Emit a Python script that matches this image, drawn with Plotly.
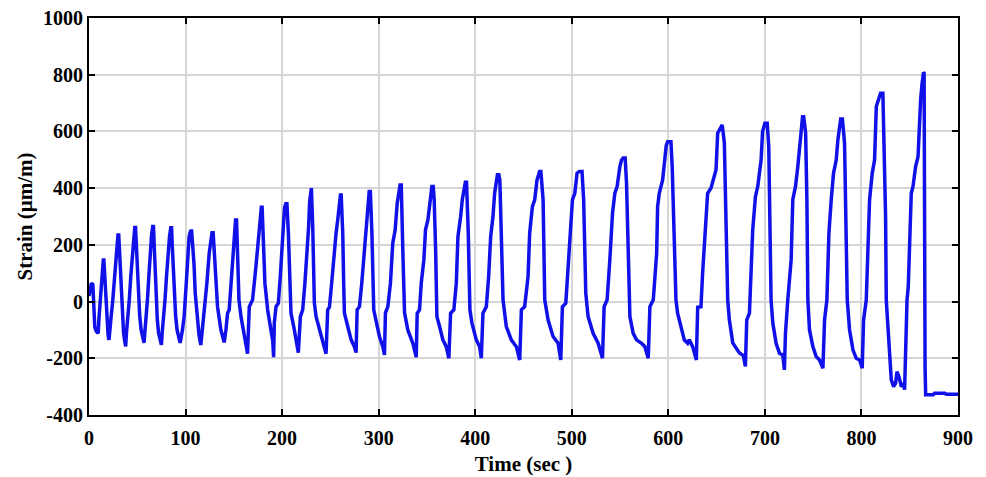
import plotly.graph_objects as go

# Values (time in s, strain in µm/m)
time_s = [
    0, 1, 2.5, 4, 5, 6, 7.5, 9.5,
    10.3, 11.3, 12.3, 13.3, 14.3, 14.8, 15.4, 16, 16.8, 17.6, 18.6, 19.8, 20.7,
    21.5, 23, 24.5, 26, 27.5, 29, 30, 30.8, 31.5, 32.5, 33.5, 34.5, 35.8, 37, 38,
    38.8, 40.3, 41.8, 43.3, 44.8, 46.2, 47.4, 48.2, 49, 50, 51.2, 52.5, 54, 55.5, 57,
    57.8, 59.2, 60.6, 62, 63.4, 64.8, 66, 66.8, 67.5, 68.5, 69.5, 70.7, 72, 73.5, 75,
    75.8, 77.3, 78.8, 80.3, 81.8, 83.4, 84.7, 85.5, 86.2, 87.2, 88.4, 89.7, 91.2, 92.8, 94.4,
    96.8, 98.5, 100.3, 102, 103.7, 104.8, 105.3, 106.3, 107.5, 108.8, 110, 112, 114, 115.8,
    117.6, 119.3, 122.1, 124.5, 126.5, 127.4, 128.6, 130, 131.7, 133.1, 136.6, 140,
    141.8, 143.5, 145.2, 146.9, 148.7, 150.4, 151.8, 152.8, 154.2, 155.3, 157.4, 160.8, 164.2,
    166, 169.4, 172.9, 175.3, 177.4, 178.5, 179.3, 180.8, 182.2, 185, 188.5, 190.3, 191.2,
    191.9, 193.7, 196.1, 198.1, 199.5, 200.9, 202.5, 203.8, 205, 206.5, 208.2, 209.2, 212, 214.5, 216.8,
    218.9, 221.3, 223.5, 224.8, 226.5, 227.5, 228.5, 229.7, 230.3, 231.7, 232.7, 233.4, 235.2, 238.6, 242, 245.5,
    247.2, 249, 250.7, 252.4, 254.1, 255.9, 257.6, 259.6, 260.4, 261.2, 262.8, 263.8, 264.5, 268, 271.5, 274.9, 276.6,
    277.7, 280.1, 282.5, 284.6, 286.3, 288.1, 289.5, 290.2, 291.4, 293, 294.9, 297.4, 300.8, 304.3, 306,
    307, 309.5, 312.2, 314.6, 317.1, 319.2, 322.2, 323.4, 325, 326.8, 330.2, 335.4, 338.9,
    339.9, 342.3, 344.1, 346.8, 348.5, 351, 353.4, 355.1, 356.5, 357.5, 359, 360.3, 363.1, 366.5, 370, 372.7,
    374.5, 377.9, 380.4, 382.1, 384.9, 386.6, 389.8, 391, 392.8, 394.5, 396.6, 401.1, 404.6, 406.3,
    408, 411.5, 413.9, 416, 418.4, 420.1, 423, 424.5, 425.5, 427.2, 428.8, 432.2, 437.4, 442.6, 446.1,
    447.8, 451.2, 454.7, 456.4, 459.2, 461.6, 464, 466.7, 468, 470.3, 472, 475.5, 480.6, 485.8, 488.6,
    490.3, 493.8, 496.2, 498.6, 500.7, 503.1, 505.5, 507.8, 510.6, 512.3, 514.5, 516.9, 522.1, 527.3, 531.8,
    533.5, 536.6, 539.4, 542.2, 544.6, 547, 549.8, 551.6, 553.3, 555.3, 556.7, 558.4, 560.2, 563.6, 567.1, 572.3, 575.7, 579.2,
    580.9, 584.4, 587.9, 588.9, 590.6, 594.1, 595.8, 597.8, 599.3, 602.7, 604, 606, 607.9, 609.6, 613, 616.5, 620, 621.7, 625.2, 629,
    630.4, 633.8, 635.5, 637.3, 640.7, 644.2, 649.4, 651.1, 655, 655.8, 658, 659.8, 661.5, 663.2, 666.7, 673.6, 677.7, 679.8,
    681.2, 684, 685.7, 687.4, 690.2, 692.6, 696.1, 697.6, 700, 702.4, 704, 705.4, 706.4, 708.2, 711.6, 715.1, 718.5, 720.2,
    721.3, 723.7, 727.2, 728.9, 731.7, 734.1, 736.5, 739, 740.2, 742.2, 743.5, 744.5, 746.2, 749.7, 753.1, 756.6, 760.1,
    761.8, 764.2, 766.3, 768.7, 771.1, 773.9, 775.6, 778.5, 780.3, 782.5, 784.2, 785.3, 787.7, 791.2, 794.6, 798.1, 800.8,
    802.2, 805, 806.7, 808.4, 811.2, 813.6, 815.4, 817.1, 819.8, 822.2, 823.6, 825, 825.7, 827.5, 829.2, 830.9, 833.3,
    835.4, 836.8, 838.9, 841.3, 843.7, 844.7,
    845.8, 847.2, 848.5, 849.9, 851.6, 853.4, 856.1, 858.6, 860.3, 861.3, 862.8, 864.3, 864.9, 865.9, 866.5,
    874.2, 875.8, 886.2, 888, 900,
]

strain_um_m = [
    20, 45, 65, 60, -40, -90, -105, -112,
    -60, -10, 50, 100, 140, 147, 147, 110, 30, -40, -90, -120, -135,
    -90, -50, 0, 70, 150, 210, 235, 235, 180, 80, 0, -60, -110, -140, -158,
    -110, -60, 10, 90, 160, 230, 261, 261, 200, 110, 20, -50, -100, -130, -146,
    -110, -60, 10, 90, 170, 235, 265, 265, 200, 100, 10, -60, -110, -140, -153,
    -110, -60, 10, 90, 170, 230, 260, 260, 200, 110, 20, -50, -100, -130, -146,
    -100, -53, 41, 147, 229, 245, 249, 249, 200, 130, 30, -60, -120, -153,
    -88, -53, 65, 171, 235, 243, 243, 170, 65, -18, -100, -144,
    -100, -41, -29, 65, 147, 229, 288, 288, 147, 6, -53, -123, -184,
    -18, 6, 124, 229, 320, 333, 333, 182, 65, -29, -100, -140, -196,
    -76, -18, -6, 88, 182, 241, 330, 345, 345, 241, 65, -41, -88, -135, -180,
    -53, -29, 60, 124, 182, 265, 353, 400, 400, 265, 147, -5, -53, -100, -135, -184,
    -29, -20, 41, 112, 159, 242, 288, 370, 376, 376, 240, 60, -40, -88, -135, -159, -180,
    -29, -18, 65, 147, 241, 300, 370, 388, 388, 241, -29, -76, -123, -159, -188,
    -40, -18, 65, 206, 253, 347, 411, 411, 182, -40, -100, -147, -196,
    -41, -29, 65, 147, 253, 288, 347, 406, 406, 359, 182, -53, -88, -135, -159, -200,
    -41, -29, 65, 229, 300, 359, 421, 421, 241, -29, -76, -135, -159, -200,
    -41, -18, 88, 229, 300, 382, 447, 447, 429, 182, 6, -88, -135, -159, -206,
    -29, -18, 88, 241, 335, 359, 429, 459, 459, 359, 6, -65, -123, -147, -206,
    -18, -6, 124, 265, 359, 382, 453, 459, 459, 359, 30, -53, -112, -147, -200,
    -18, 6, 147, 312, 382, 406, 476, 500, 506, 506, 418, 124, -53, -112, -135, -147, -159, -200,
    -18, 6, 170, 335, 382, 429, 476, 550, 564, 564, 476, 250, 6, -41, -88, -135, -147, -135, -159, -206,
    -20, -18, 100, 218, 382, 400, 465, 594, 623, 623, 560, 288, 6, -64, -146, -181, -190, -229,
    -65, -41, 100, 253, 370, 406, 500, 600, 629, 629, 547, 288, 6, -76, -147, -182, -188, -241,
    -112, 6, 147, 359, 406, 476, 570, 652, 652, 594, 359, 6, -100, -159, -194, -206, -235,
    -65, 6, 241, 359, 453, 500, 570, 644, 644, 559, 241, 6, -100, -170, -200, -206, -235,
    -65, 6, 171, 359, 453, 500, 688, 711, 735, 735, 535, 300, 6, -112, -206, -276, -300,
    -288, -247, -265, -300, -288, -311,
    -112, 6, 53, 182, 382, 406, 476, 511, 652, 711, 770, 808, 806, -229, -329,
    -329, -323, -323, -327, -327,
]

x_ticks = [0, 100, 200, 300, 400, 500, 600, 700, 800, 900]
x_tick_labels = ["0", "100", "200", "300", "400", "500", "600", "700", "800", "900"]
y_ticks = [-400, -200, 0, 200, 400, 600, 800, 1000]
y_tick_labels = ["-400", "-200", "0", "200", "400", "600", "800", "1000"]

FONT = "Liberation Serif"

fig = go.Figure()
fig.add_trace(go.Scatter(
    x=time_s, y=strain_um_m, mode="lines",
    line=dict(color="#1010e8", width=3.5),
    hoverinfo="skip",
))

axis_common = dict(
    ticks="inside", ticklen=6, tickwidth=2, tickcolor="black",
    showline=True, linecolor="black", linewidth=2, mirror="ticks",
    showgrid=True, gridcolor="#d6d6d6", gridwidth=1.5,
    zeroline=False, automargin=False, ticklabeloverflow="allow",
    tickfont=dict(family=FONT, size=20, color="black", weight="bold"),
)

# the page body adds an 8px margin, so the figure is 8px smaller
fig.update_layout(
    width=978, height=469,
    margin=dict(l=81, r=28, t=10, b=62),
    paper_bgcolor="white", plot_bgcolor="white",
    showlegend=False,
    xaxis=dict(
        range=[0, 900], tickmode="array", tickvals=x_ticks, ticktext=x_tick_labels,
        ticklabelstandoff=4,
        title=dict(text="Time (sec )", standoff=8,
                   font=dict(family=FONT, size=21, color="black", weight="bold")),
        **axis_common,
    ),
    yaxis=dict(
        range=[-400, 1000], tickmode="array", tickvals=y_ticks, ticktext=y_tick_labels,
        title=dict(text="Strain (μm/m)", standoff=5,
                   font=dict(family=FONT, size=21, color="black", weight="bold")),
        **axis_common,
    ),
)

fig.write_html("out.html")
